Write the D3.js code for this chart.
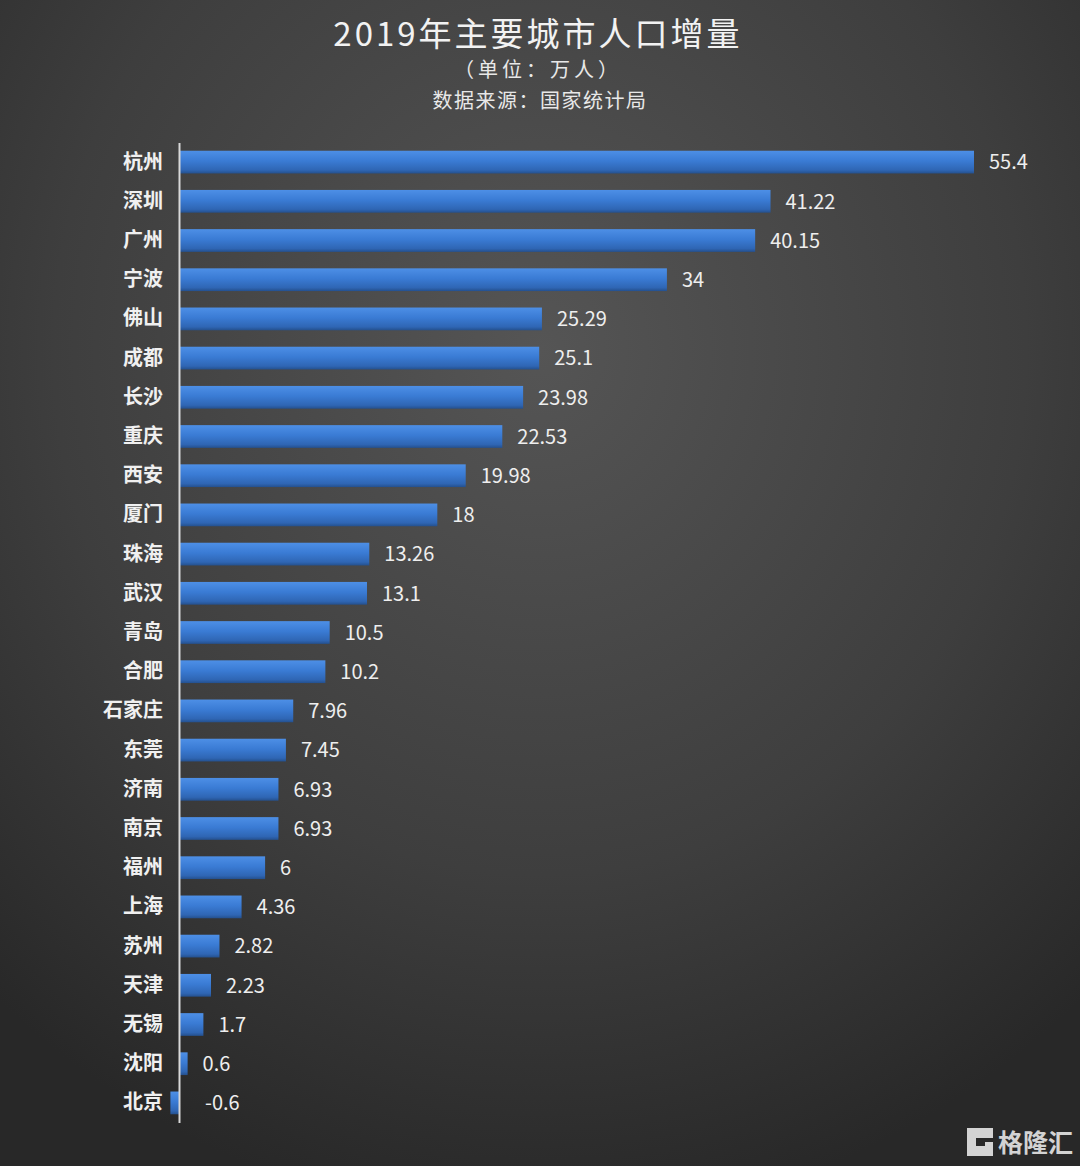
<!DOCTYPE html>
<html><head><meta charset="utf-8">
<script src="https://cdn.jsdelivr.net/npm/d3@7"></script>
<style>
html,body{margin:0;padding:0;background:#333;}
svg{display:block;}
</style></head>
<body>
<script>
const cities = ["杭州","深圳","广州","宁波","佛山","成都","长沙","重庆","西安","厦门","珠海","武汉","青岛","合肥","石家庄","东莞","济南","南京","福州","上海","苏州","天津","无锡","沈阳","北京"];
const values = [55.4,41.22,40.15,34,25.29,25.1,23.98,22.53,19.98,18,13.26,13.1,10.5,10.2,7.96,7.45,6.93,6.93,6,4.36,2.82,2.23,1.7,0.6,-0.6];
const labels = ["55.4","41.22","40.15","34","25.29","25.1","23.98","22.53","19.98","18","13.26","13.1","10.5","10.2","7.96","7.45","6.93","6.93","6","4.36","2.82","2.23","1.7","0.6","-0.6"];
const title = "2019年主要城市人口增量";
const subtitle = "（单位：万人）";
const source = "数据来源：国家统计局";
const watermark = "格隆汇";

const W = 1080, H = 1166;
const font = "'Noto Sans CJK SC','Noto Sans',sans-serif";
const svg = d3.select("body").append("svg").attr("width", W).attr("height", H);
const defs = svg.append("defs");
const rg = defs.append("radialGradient").attr("id","bg").attr("cx","50%").attr("cy","30%").attr("r","75%");
rg.append("stop").attr("offset","0%").attr("stop-color","#555555");
rg.append("stop").attr("offset","60%").attr("stop-color","#3e3e3e");
rg.append("stop").attr("offset","100%").attr("stop-color","#282828");
svg.append("rect").attr("width",W).attr("height",H).attr("fill","url(#bg)");

const bg = defs.append("linearGradient").attr("id","bar").attr("x1","0").attr("y1","0").attr("x2","0").attr("y2","1");
bg.append("stop").attr("offset","0%").attr("stop-color","#4d8fe6");
bg.append("stop").attr("offset","45%").attr("stop-color","#3a7bd4");
bg.append("stop").attr("offset","85%").attr("stop-color","#2f66b4");
bg.append("stop").attr("offset","100%").attr("stop-color","#24508e");

const x = d3.scaleLinear().domain([0, 55.4]).range([179, 974]);
const y = d3.scaleBand().domain(cities).range([142.5, 1122.5]).paddingInner(0.42).paddingOuter(0.21);

svg.append("text").attr("x",538).attr("y",46).attr("text-anchor","middle")
  .attr("font-family",font).attr("font-size",33).attr("fill","#f2f2f2").attr("letter-spacing",3).text(title);
svg.append("text").attr("x",538).attr("y",77).attr("text-anchor","middle")
  .attr("font-family",font).attr("font-size",20).attr("fill","#e8e8e8").attr("letter-spacing",4).text(subtitle);
svg.append("text").attr("x",540).attr("y",108).attr("text-anchor","middle")
  .attr("font-family",font).attr("font-size",20).attr("fill","#e8e8e8").attr("letter-spacing",1.5).text(source);

const data = cities.map((c,i)=>({c, v: values[i], l: labels[i]}));

svg.append("g").selectAll("rect").data(data).join("rect")
  .attr("x", d => x(Math.min(0,d.v)))
  .attr("y", d => y(d.c))
  .attr("width", d => Math.abs(x(d.v)-x(0)))
  .attr("height", y.bandwidth())
  .attr("fill","url(#bar)");

svg.append("g").selectAll("text").data(data).join("text")
  .attr("x", d => d.v >= 0 ? x(d.v) + 15 : x(0) + 26)
  .attr("y", d => y(d.c) + y.bandwidth()/2)
  .attr("dy","0.36em")
  .attr("font-family",font).attr("font-size",20).attr("fill","#eeeeee")
  .text(d => d.l);

const yAxis = d3.axisLeft(y).tickSize(0).tickPadding(16);
const ga = svg.append("g").attr("transform",`translate(${x(0)},0)`).call(yAxis);
ga.select(".domain").attr("stroke","#d8d8d8").attr("stroke-width",2);
ga.selectAll("text").attr("font-family",font).attr("font-size",20).attr("font-weight","bold").attr("fill","#f0f0f0");

// watermark
const wm = svg.append("g").attr("transform","translate(967,1128)");
wm.append("path").attr("d","M0,0 H26 V10 H9 V18 H18 V14 H26 V28 H0 Z").attr("fill","#e6e6e6").attr("opacity",0.9);
wm.append("text").attr("x",31).attr("y",24).attr("font-family",font).attr("font-size",25).attr("font-weight","bold")
  .attr("fill","#e6e6e6").attr("opacity",0.9).text(watermark);
</script>
</body></html>
